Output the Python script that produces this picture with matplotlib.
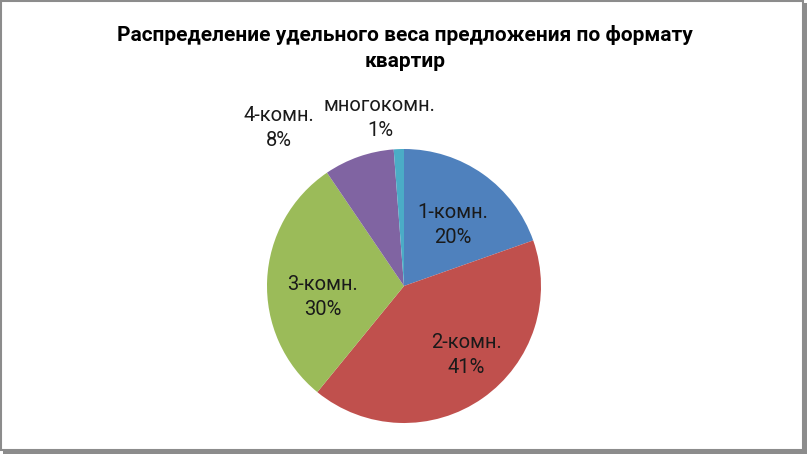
import numpy as np
import matplotlib
matplotlib.use('Agg')
from matplotlib import pyplot as plt
from matplotlib.patches import Rectangle

plt.rcParams['font.family'] = ['Roboto', 'DejaVu Sans']

# data (share of offer, %)
categories = ['1-комн.', '2-комн.', '3-комн.', '4-комн.', 'многокомн.']
shares = [19.6, 41.3, 29.6, 8.3, 1.2]
colors = ['#4F81BD', '#C0504D', '#9BBB59', '#8064A2', '#4BACC6']
title = 'Распределение удельного веса предложения по формату\nквартир'

# label placement per wedge: (radius, angle shift in degrees)
label_pos = [(0.57, -3), (0.68, 7), (0.60, 10), (1.47, 19), (1.24, 6)]

W, H = 807, 454
fig = plt.figure(figsize=(W / 100, H / 100), dpi=100)

# chart frame with a shadow on right/bottom
fig.patches.append(Rectangle((3 / W, 0), 1 - 3 / W, 1 - 3 / H, transform=fig.transFigure,
                             facecolor='#8C8C8C', edgecolor='none', zorder=-3))
fig.patches.append(Rectangle((1 / W, 4 / H), 1 - 5 / W, 1 - 5 / H, transform=fig.transFigure,
                             facecolor='white', edgecolor='#8C8C8C', linewidth=1.5, zorder=-2))

cx, cy, r = 404, 454 - 286, 137
ax = fig.add_axes([(cx - r) / W, (cy - r) / H, 2 * r / W, 2 * r / H])
wedges, _ = ax.pie(shares, colors=colors, startangle=90, counterclock=False,
                   radius=1, wedgeprops=dict(linewidth=0))
ax.set_xlim(-1, 1)
ax.set_ylim(-1, 1)
ax.set_aspect('equal')
ax.axis('off')

for w, name, val, (rad, shift) in zip(wedges, categories, shares, label_pos):
    ang = np.deg2rad((w.theta1 + w.theta2) / 2 + shift)
    ax.text(rad * np.cos(ang), rad * np.sin(ang), '{}\n{:.0f}%'.format(name, val),
            ha='center', va='center', fontsize=14.5, linespacing=1.4, color='#1A1A1A')

fig.text(405 / W, 1 - 48 / H, title, ha='center', va='center', fontsize=15,
         fontweight='bold', linespacing=1.5)

fig.savefig('out.png', dpi=100)
